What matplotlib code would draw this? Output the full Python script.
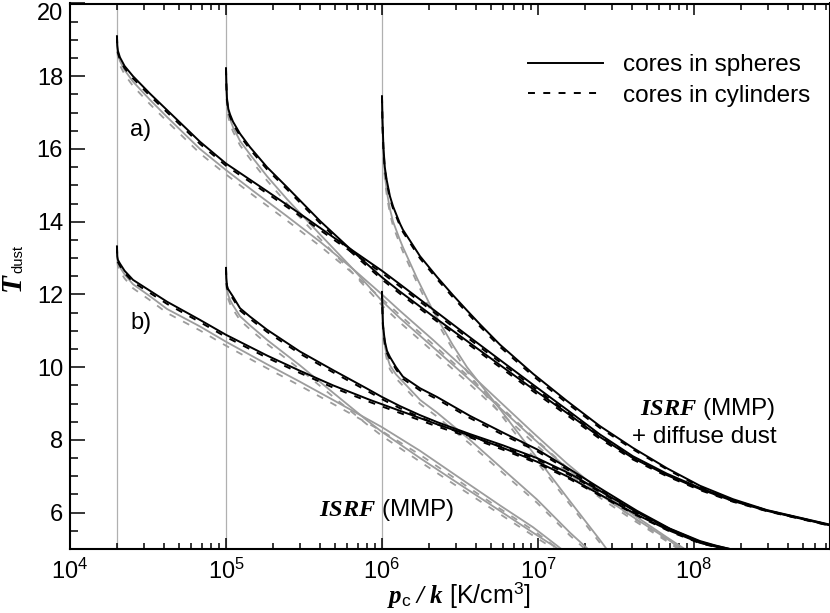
import numpy as np
import matplotlib
matplotlib.use('Agg')
import matplotlib.pyplot as plt
from matplotlib.lines import Line2D
from matplotlib.ticker import LogLocator, NullFormatter, MultipleLocator

plt.rcParams['font.family'] = ['Liberation Sans', 'DejaVu Sans']
plt.rcParams['mathtext.fontset'] = 'custom'
plt.rcParams['mathtext.rm'] = 'Liberation Sans'
plt.rcParams['mathtext.it'] = 'Liberation Serif:italic'
plt.rcParams['mathtext.bf'] = 'Liberation Serif:bold:italic'
plt.rcParams['lines.scale_dashes'] = False

# ---------------- data (log10 of p_c/k, T_dust) ----------------
p_ext = [2e4, 1e5, 1e6]

# a) ISRF (MMP) + diffuse dust -- black
a1_logp = [4.301, 4.303, 4.307, 4.320, 4.35, 4.404, 4.513, 4.622, 4.833, 5.000, 5.263, 5.474, 5.686, 6.000,
           6.115, 6.327, 6.545, 6.756, 6.968, 7.186, 7.397, 7.609, 7.827, 8.038, 8.25, 8.468, 8.68, 8.872]
a1_sph = [19.10, 18.85, 18.70, 18.52, 18.28, 18.00, 17.52, 17.07, 16.20, 15.60, 14.84, 14.22, 13.58, 12.65,
          12.28, 11.59, 10.88, 10.20, 9.52, 8.83, 8.15, 7.55, 7.07, 6.68, 6.34, 6.06, 5.85, 5.66]
a1_cyl = [19.10, 18.80, 18.64, 18.46, 18.22, 17.94, 17.46, 17.01, 16.14, 15.54, 14.78, 14.16, 13.52, 12.59,
          12.22, 11.53, 10.82, 10.14, 9.46, 8.77, 8.10, 7.51, 7.04, 6.65, 6.32, 6.05, 5.84, 5.65]

a2_logp = [5.000, 5.002, 5.006, 5.015, 5.026, 5.045, 5.090, 5.154, 5.263, 5.391, 5.603, 5.814, 6.000, 6.115,
           6.327, 6.545, 6.756, 6.968, 7.186, 7.397, 7.609, 7.827, 8.038, 8.25, 8.468, 8.68, 8.872]
a2_sph = [18.22, 17.85, 17.40, 17.10, 16.95, 16.75, 16.42, 16.05, 15.50, 14.95, 14.02, 13.18, 12.47, 12.08,
          11.40, 10.72, 10.06, 9.40, 8.74, 8.08, 7.50, 7.03, 6.65, 6.32, 6.05, 5.84, 5.65]
a2_cyl = [18.22, 17.80, 17.34, 17.04, 16.89, 16.69, 16.36, 15.99, 15.44, 14.89, 13.96, 13.12, 12.41, 12.02,
          11.34, 10.66, 10.00, 9.34, 8.68, 8.03, 7.46, 7.00, 6.62, 6.30, 6.04, 5.83, 5.64]

a3_logp = [6.000, 6.003, 6.009, 6.018, 6.030, 6.051, 6.071, 6.115, 6.134, 6.244, 6.353, 6.455, 6.545, 6.628,
           6.756, 6.968, 7.186, 7.397, 7.609, 7.827, 8.038, 8.25, 8.468, 8.68, 8.872]
a3_sph = [17.45, 16.80, 16.07, 15.50, 15.15, 14.70, 14.42, 13.95, 13.78, 13.05, 12.48, 11.98, 11.56, 11.18,
          10.62, 9.82, 9.07, 8.38, 7.78, 7.22, 6.74, 6.37, 6.07, 5.86, 5.67]
a3_cyl = [17.45, 16.74, 16.01, 15.44, 15.09, 14.64, 14.36, 13.89, 13.72, 12.99, 12.42, 11.92, 11.50, 11.12,
          10.56, 9.76, 9.01, 8.33, 7.74, 7.19, 6.71, 6.35, 6.06, 5.85, 5.66]

# a) grey companions
ga1_logp = [4.301, 4.303, 4.307, 4.320, 4.35, 4.404, 4.513, 4.622, 4.833, 5.000, 5.173, 5.391, 5.603, 5.814,
            6.000, 6.115, 6.327, 6.545, 6.756, 6.968, 7.186, 7.397, 7.609, 7.827, 7.94]
ga1_sph = [19.10, 18.80, 18.62, 18.42, 18.17, 17.85, 17.35, 16.88, 16.00, 15.42, 14.85, 14.15, 13.45, 12.70,
           12.00, 11.55, 10.75, 9.90, 9.05, 8.20, 7.35, 6.60, 5.95, 5.32, 5.00]
ga1_cyl = [19.10, 18.72, 18.52, 18.30, 18.05, 17.73, 17.23, 16.76, 15.88, 15.30, 14.73, 14.03, 13.33, 12.58,
           11.88, 11.43, 10.63, 9.78, 8.93, 8.08, 7.24, 6.50, 5.86, 5.24, 4.93]

ga2_logp = [5.000, 5.002, 5.006, 5.015, 5.026, 5.045, 5.090, 5.154, 5.263, 5.391, 5.603, 5.814, 6.000, 6.115,
            6.327, 6.545, 6.756, 6.968, 7.186, 7.397, 7.609, 7.827, 7.92]
ga2_sph = [18.22, 17.80, 17.30, 17.00, 16.82, 16.60, 16.22, 15.85, 15.25, 14.62, 13.65, 12.70, 11.82, 11.35,
           10.55, 9.72, 8.88, 8.05, 7.22, 6.50, 5.88, 5.28, 5.00]
ga2_cyl = [18.22, 17.72, 17.20, 16.88, 16.70, 16.48, 16.10, 15.73, 15.13, 14.50, 13.53, 12.58, 11.70, 11.23,
           10.43, 9.60, 8.76, 7.94, 7.12, 6.41, 5.80, 5.21, 4.94]

ga3_logp = [6.000, 6.003, 6.009, 6.019, 6.032, 6.051, 6.071, 6.115, 6.134, 6.224, 6.327, 6.455, 6.545, 6.756,
            6.968, 7.186, 7.397, 7.44]
ga3_sph = [17.45, 16.70, 15.90, 15.25, 14.80, 14.35, 14.00, 13.50, 13.30, 12.45, 11.55, 10.60, 10.00, 8.85,
           7.65, 6.42, 5.25, 5.00]
ga3_cyl = [17.45, 16.60, 15.78, 15.13, 14.68, 14.23, 13.88, 13.38, 13.18, 12.33, 11.43, 10.48, 9.88, 8.73,
           7.54, 6.33, 5.17, 4.93]

# b) ISRF (MMP) -- black
b1_logp = [4.301, 4.303, 4.307, 4.320, 4.35, 4.404, 4.513, 4.622, 4.833, 5.000, 5.263, 5.474, 5.686, 5.923,
           6.000, 6.244, 6.353, 6.564, 6.776, 6.994, 7.205, 7.417, 7.635, 7.846, 8.038, 8.135, 8.21]
b1_sph = [13.32, 13.05, 12.95, 12.85, 12.65, 12.40, 12.10, 11.80, 11.30, 10.89, 10.32, 9.90, 9.50, 9.10,
          8.98, 8.60, 8.43, 8.12, 7.78, 7.40, 6.96, 6.45, 5.94, 5.50, 5.17, 5.07, 5.00]
b1_cyl = [13.32, 13.00, 12.89, 12.79, 12.59, 12.34, 12.04, 11.74, 11.24, 10.83, 10.26, 9.84, 9.44, 9.04,
          8.92, 8.54, 8.37, 8.07, 7.73, 7.36, 6.92, 6.42, 5.92, 5.48, 5.16, 5.06, 4.98]

b2_logp = [5.000, 5.002, 5.006, 5.013, 5.045, 5.090, 5.154, 5.263, 5.474, 5.686, 5.900, 6.000, 6.115, 6.244,
           6.353, 6.564, 6.776, 6.994, 7.205, 7.417, 7.635, 7.846, 8.038, 8.135, 8.23]
b2_sph = [12.73, 12.45, 12.25, 12.15, 11.94, 11.62, 11.39, 11.03, 10.43, 9.92, 9.42, 9.18, 8.93, 8.68,
          8.49, 8.16, 7.85, 7.50, 7.07, 6.55, 6.01, 5.55, 5.20, 5.09, 5.00]
b2_cyl = [12.73, 12.40, 12.19, 12.09, 11.88, 11.56, 11.33, 10.97, 10.37, 9.86, 9.36, 9.12, 8.87, 8.62,
          8.43, 8.10, 7.80, 7.46, 7.03, 6.52, 5.98, 5.53, 5.18, 5.07, 4.98]

b3_logp = [6.000, 6.003, 6.006, 6.013, 6.019, 6.032, 6.051, 6.090, 6.134, 6.244, 6.353, 6.564, 6.776, 6.994,
           7.205, 7.417, 7.635, 7.846, 8.038, 8.135, 8.231]
b3_sph = [12.07, 11.60, 11.20, 10.90, 10.70, 10.45, 10.28, 10.00, 9.74, 9.42, 9.18, 8.66, 8.20, 7.74,
          7.19, 6.62, 6.05, 5.56, 5.22, 5.10, 5.00]
b3_cyl = [12.07, 11.55, 11.14, 10.84, 10.64, 10.39, 10.22, 9.94, 9.68, 9.36, 9.12, 8.60, 8.14, 7.69,
          7.14, 6.58, 6.02, 5.54, 5.20, 5.08, 4.98]

# b) grey companions
gb1_logp = [4.301, 4.303, 4.307, 4.320, 4.35, 4.404, 4.513, 4.622, 4.833, 5.000, 5.263, 5.474, 5.686, 6.000,
            6.244, 6.455, 6.756, 6.968, 7.15]
gb1_sph = [13.32, 13.00, 12.88, 12.75, 12.55, 12.28, 11.95, 11.60, 11.12, 10.70, 10.08, 9.60, 9.10, 8.35,
           7.70, 7.08, 6.20, 5.60, 5.00]
gb1_cyl = [13.32, 12.92, 12.78, 12.64, 12.44, 12.17, 11.84, 11.49, 11.01, 10.59, 9.97, 9.49, 8.99, 8.24,
           7.59, 6.98, 6.11, 5.52, 4.93]

gb2_logp = [5.000, 5.002, 5.006, 5.013, 5.026, 5.045, 5.090, 5.154, 5.263, 5.474, 5.686, 5.900, 6.000, 6.244,
            6.455, 6.756, 6.968, 7.13]
gb2_sph = [12.73, 12.40, 12.15, 12.00, 11.85, 11.70, 11.40, 11.15, 10.75, 10.05, 9.30, 8.55, 8.22, 7.50,
           6.90, 6.05, 5.45, 5.00]
gb2_cyl = [12.73, 12.32, 12.05, 11.89, 11.74, 11.59, 11.29, 11.04, 10.64, 9.94, 9.19, 8.44, 8.11, 7.40,
           6.80, 5.96, 5.37, 4.93]

gb3_logp = [6.000, 6.003, 6.006, 6.013, 6.019, 6.032, 6.051, 6.090, 6.134, 6.244, 6.353, 6.564, 6.776, 6.994,
            7.205, 7.32]
gb3_sph = [12.07, 11.55, 11.10, 10.78, 10.57, 10.30, 10.05, 9.80, 9.60, 9.10, 8.75, 8.00, 7.19, 6.36,
           5.45, 5.00]
gb3_cyl = [12.07, 11.48, 11.00, 10.67, 10.46, 10.19, 9.94, 9.69, 9.49, 8.99, 8.64, 7.89, 7.09, 6.27,
           5.37, 4.93]

x_ticks_exp = [4, 5, 6, 7, 8]
y_ticks = [6, 8, 10, 12, 14, 16, 18, 20]

# ---------------- figure ----------------
fig = plt.figure(figsize=(8.30, 6.13), dpi=100)
ax = fig.add_axes([70 / 830, 64 / 613, 760 / 830, 545.5 / 613])
ax.set_xscale('log')

for p0 in p_ext:
    ax.axvline(p0, color='#b0b0b0', lw=0.9, zorder=1)

grey = '#9c9c9c'
dash = (0, (5, 6))
grey_sets = [(ga1_logp, ga1_sph, ga1_cyl), (ga2_logp, ga2_sph, ga2_cyl), (ga3_logp, ga3_sph, ga3_cyl),
             (gb1_logp, gb1_sph, gb1_cyl), (gb2_logp, gb2_sph, gb2_cyl), (gb3_logp, gb3_sph, gb3_cyl)]
for lp, ts, tc in grey_sets:
    p = 10 ** np.asarray(lp)
    ax.plot(p, ts, color=grey, lw=1.3, zorder=2)
    ax.plot(p, tc, color=grey, lw=1.3, ls=dash, zorder=2)

black_sets = [(a1_logp, a1_sph, a1_cyl), (a2_logp, a2_sph, a2_cyl), (a3_logp, a3_sph, a3_cyl),
              (b1_logp, b1_sph, b1_cyl), (b2_logp, b2_sph, b2_cyl), (b3_logp, b3_sph, b3_cyl)]
for lp, ts, tc in black_sets:
    p = 10 ** np.asarray(lp)
    ax.plot(p, ts, color='black', lw=1.4, zorder=3)
    ax.plot(p, tc, color='black', lw=1.4, ls=dash, zorder=3)

ax.set_xlim(1e4, 10 ** 8.872)
ax.set_ylim(5, 20)

ax.set_xticks([10.0 ** e for e in x_ticks_exp])
ax.set_xticklabels([r'$\mathregular{10^{%d}}$' % e for e in x_ticks_exp])
ax.xaxis.set_minor_locator(LogLocator(base=10, subs=np.arange(2, 10)))
ax.xaxis.set_minor_formatter(NullFormatter())
ax.set_yticks(y_ticks)
ax.set_yticklabels([str(v) for v in y_ticks])
ax.yaxis.set_minor_locator(MultipleLocator(0.5))
ax.get_yticklabels()[-1].set_verticalalignment('top')

ax.tick_params(which='both', direction='in', top=True, right=False, width=1.1, labelsize=17)
ax.tick_params(axis='y', which='major', length=11, pad=5)
ax.tick_params(axis='y', which='minor', length=5.5)
ax.tick_params(axis='x', which='major', length=8, pad=7)
ax.tick_params(axis='x', which='minor', length=4.3)
for s in ax.spines.values():
    s.set_linewidth(1.5)

# axis labels
fig.text(459 / 830, 1 - 603 / 613, r'$\mathbf{p}_{\mathrm{c}}\ \mathbf{/\ k}$ [K/cm$^{\mathrm{3}}$]',
         fontsize=18, ha='center', va='baseline')
fig.text(14 / 830, 1 - 284 / 613, r'$\mathbf{T}$', fontsize=21, rotation=90, ha='center', va='center')
fig.text(18.5 / 830, 1 - 259 / 613, 'dust', fontsize=10.5, rotation=90, ha='center', va='center')

# annotations
ax.text(0.079, 0.768, 'a)', transform=ax.transAxes, fontsize=17, ha='left', va='center')
ax.text(0.079, 0.414, 'b)', transform=ax.transAxes, fontsize=17, ha='left', va='center')
ax.text(0.839, 0.257, r'$\mathbf{ISRF}$ (MMP)', transform=ax.transAxes, fontsize=17.5, ha='center', va='center')
ax.text(0.834, 0.205, '+ diffuse dust', transform=ax.transAxes, fontsize=17.5, ha='center', va='center')
ax.text(0.417, 0.0715, r'$\mathbf{ISRF}$ (MMP)', transform=ax.transAxes, fontsize=17.5, ha='center', va='center')

handles = [Line2D([], [], color='black', lw=1.4),
           Line2D([], [], color='black', lw=1.4, ls=dash)]
ax.legend(handles, ['cores in spheres', 'cores in cylinders'], loc='upper left',
          bbox_to_anchor=(0.6026, 0.907), frameon=False, fontsize=17.5, handlelength=3.1,
          handletextpad=0.8, labelspacing=0.35, borderpad=0, borderaxespad=0)

fig.savefig('out.png', dpi=100)
